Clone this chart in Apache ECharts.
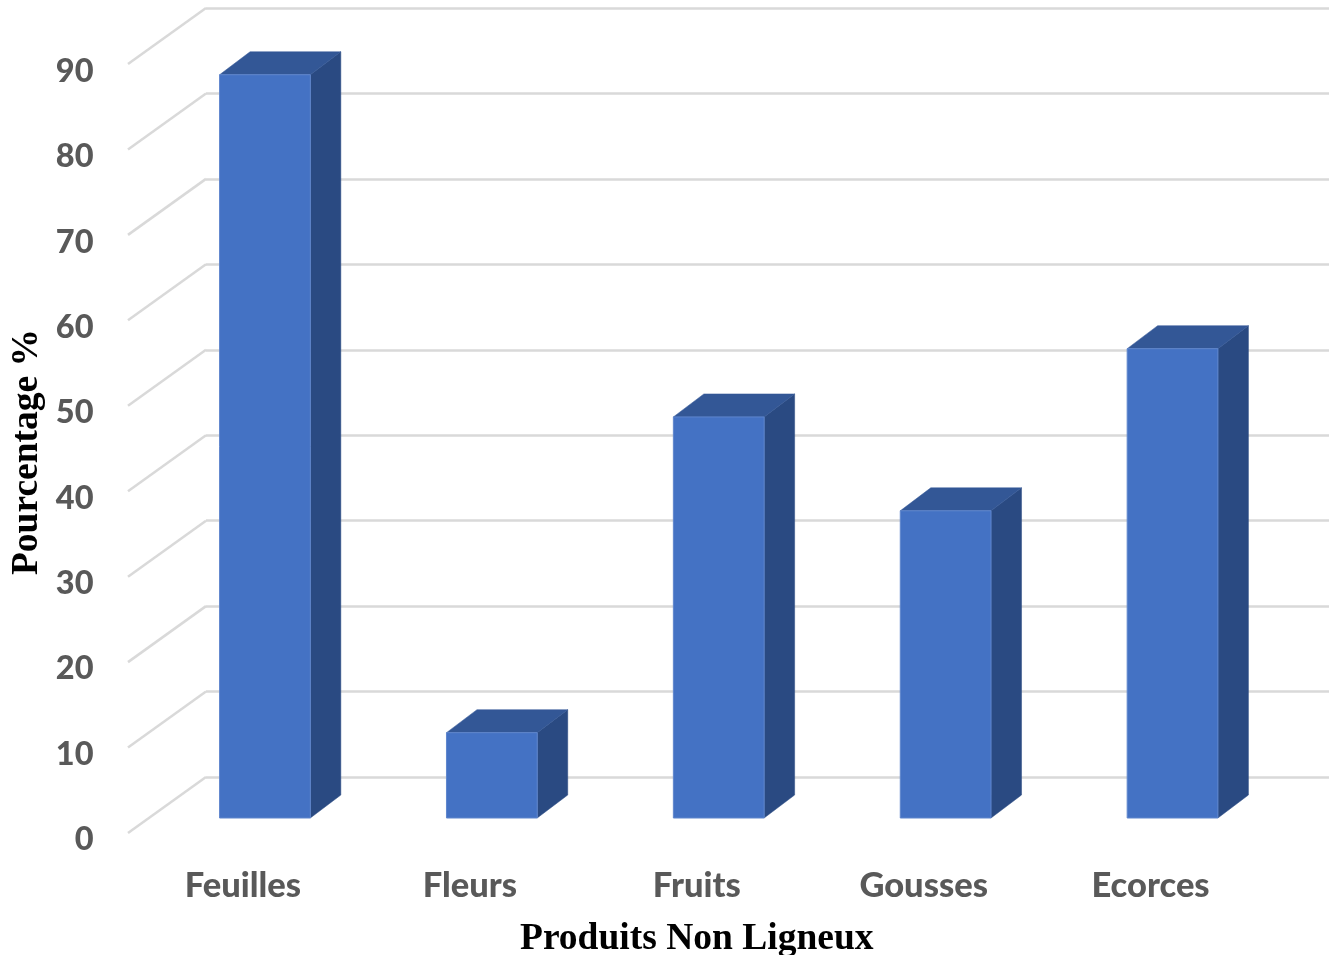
<!DOCTYPE html>
<html><head><meta charset="utf-8">
<style>html,body{margin:0;padding:0;background:#fff}#c{width:1329px;height:955px}</style>
<script src="https://cdn.jsdelivr.net/npm/echarts@6/dist/echarts.min.js"></script>
</head><body><div id="c"></div>
<script>
const categories = ['Feuilles','Fleurs','Fruits','Gousses','Ecorces'];
const values = [87.1,10,47,36,55];
const ticks = [0,10,20,30,40,50,60,70,80,90];
const xTitle = 'Produits Non Ligneux';
const yTitle = 'Pourcentage %';

const depth = {dx:30.5, dy:-23};
const inset = {dx:22, dy:-15};
const wall = {dx:78, dy:-56};
const gridC = '#d9d9d9';

const chart = echarts.init(document.getElementById('c'));
chart.setOption({
  animation:false,
  backgroundColor:'#fff',
  grid:[
    {left:129.5,width:1134.5,top:65,height:768,outerBoundsMode:'none'},
    {left:206,right:0,top:8,height:769,outerBoundsMode:'none'}
  ],
  xAxis:[
    {type:'category',gridIndex:0,data:categories,
     axisLine:{show:false},axisTick:{show:false},
     axisLabel:{color:'#595959',fontFamily:'Lato',fontWeight:900,fontSize:34.5,margin:35},
     name:xTitle,nameLocation:'middle',nameGap:87,
     nameTextStyle:{color:'#000',fontFamily:'Liberation Serif',fontWeight:'bold',fontSize:37.5}},
    {type:'value',gridIndex:1,min:0,max:1,show:false}
  ],
  yAxis:[
    {type:'value',gridIndex:0,min:0,max:90,interval:10,
     axisLine:{show:false},axisTick:{show:false},splitLine:{show:false},
     axisLabel:{margin:36,formatter:'{a|{value}}',
       rich:{a:{color:'#595959',fontFamily:'Lato',fontWeight:900,fontSize:32.5,padding:[13,0,0,0]}}},
     name:yTitle,nameLocation:'middle',nameGap:83,nameRotate:90,nameMoveOverlap:false,
     nameTextStyle:{color:'#000',fontFamily:'Liberation Serif',fontWeight:'bold',fontSize:37.5,padding:[0,6,0,0]}},
    {type:'value',gridIndex:1,min:0,max:90,interval:10,
     axisLabel:{show:false},axisLine:{show:false},axisTick:{show:false},
     splitLine:{show:true,lineStyle:{color:gridC,width:2.5}}}
  ],
  series:[
    {type:'custom',xAxisIndex:1,yAxisIndex:1,data:ticks,clip:false,silent:true,z:1,
     encode:{y:0},
     renderItem:(p,api)=>{
       const c=api.coord([0,api.value(0)]);
       return {type:'line',shape:{x1:c[0],y1:c[1],x2:c[0]-wall.dx,y2:c[1]-wall.dy},
         style:{stroke:gridC,lineWidth:2.5,fill:null}};
     }},
    {type:'custom',xAxisIndex:0,yAxisIndex:0,clip:false,z:3,
     data:values.map((v,i)=>[i,v]),encode:{x:0,y:1},
     renderItem:(p,api)=>{
       const i=api.value(0),v=api.value(1);
       const top=api.coord([i,v]),base=api.coord([i,0]);
       const w=api.size([1,0])[0]*0.4;
       const xl=top[0]+inset.dx-w/2,xr=xl+w;
       const yt=top[1]+inset.dy,yb=base[1]+inset.dy;
       const {dx,dy}=depth;
       return {type:'group',children:[
         {type:'polygon',shape:{points:[[xr,yt],[xr+dx,yt+dy],[xr+dx,yb+dy],[xr,yb]]},style:{fill:'#2a4a82',stroke:'#2a4a82',lineWidth:0.5}},
         {type:'polygon',shape:{points:[[xl,yt],[xl+dx,yt+dy],[xr+dx,yt+dy],[xr,yt]]},style:{fill:'#335796',stroke:'#335796',lineWidth:0.5}},
         {type:'rect',shape:{x:xl,y:yt,width:w,height:yb-yt},style:{fill:'#4472c4',stroke:'#5f86cd',lineWidth:1}}
       ]};
     }}
  ]
});
</script></body></html>
